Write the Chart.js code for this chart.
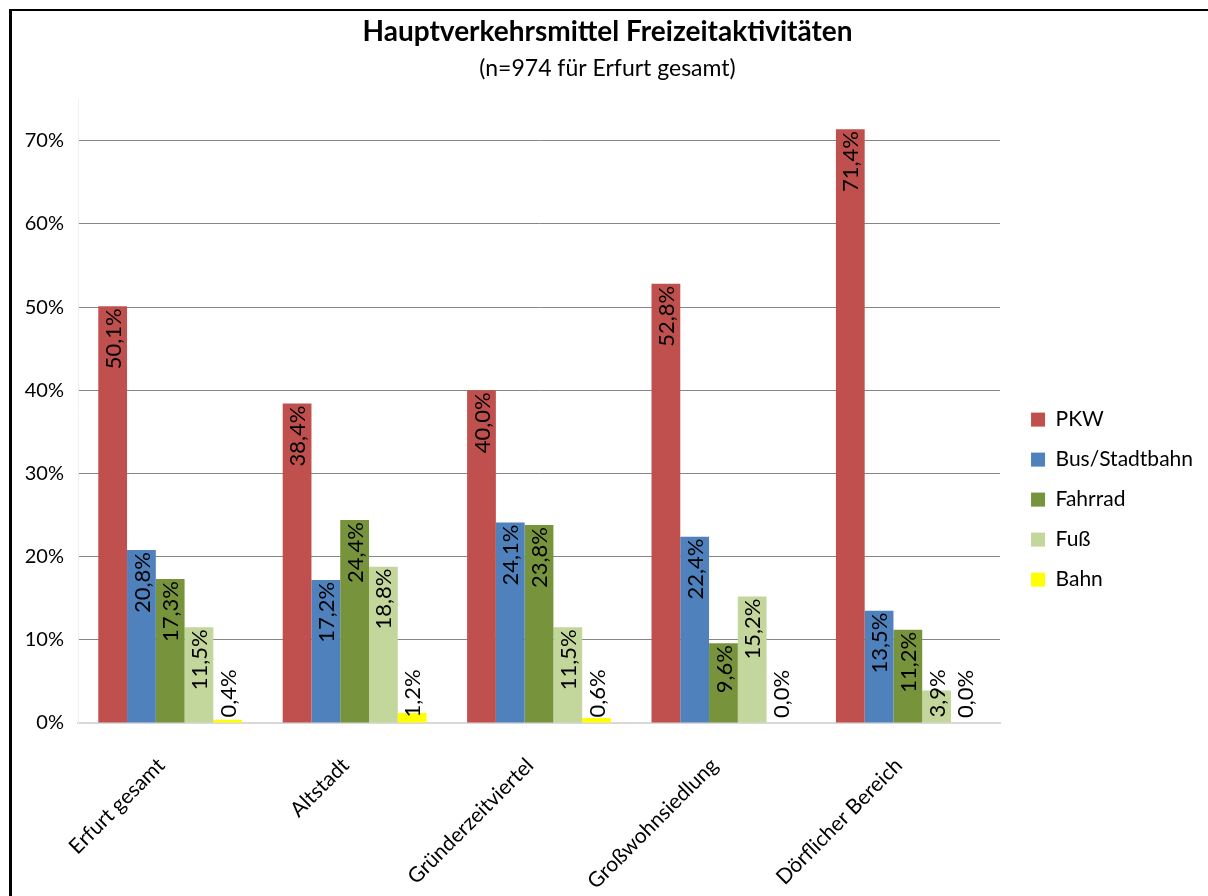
<!DOCTYPE html>
<html>
<head>
<meta charset="utf-8">
<script src="https://cdn.jsdelivr.net/npm/chart.js@4.4.1/dist/chart.umd.min.js"></script>
<style>
  body { margin: 0; background: #fff; overflow: hidden; }
  #rahmen { position: absolute; left: 9px; top: 9px; width: 1210px; height: 890px; border-left: 3px solid #000; border-top: 2px solid #000; }
</style>
</head>
<body>
<div id="rahmen"><canvas id="grafik" width="1196" height="884"></canvas></div>
<script>
const kategorien = ['Erfurt gesamt', 'Altstadt', 'Gründerzeitviertel', 'Großwohnsiedlung', 'Dörflicher Bereich']
const pkw = [50.1, 38.4, 40.0, 52.8, 71.4]
const busStadtbahn = [20.8, 17.2, 24.1, 22.4, 13.5]
const fahrrad = [17.3, 24.4, 23.8, 9.6, 11.2]
const fuss = [11.5, 18.8, 11.5, 15.2, 3.9]
const bahn = [0.4, 1.2, 0.6, 0.0, 0.0]
const yTicks = [0, 10, 20, 30, 40, 50, 60, 70]

const schrift = 'Lato, Calibri, "Liberation Sans", sans-serif'
const formatProzent = v => v.toFixed(1).replace('.', ',') + '%'
const legendenAbstand = 12

// Beschriftungen senkrecht in die Balken schreiben
const balkenBeschriftung = {
  id: 'balkenBeschriftung',
  afterDatasetsDraw(chart) {
    const ctx = chart.ctx
    ctx.save()
    ctx.font = '22px ' + schrift
    ctx.fillStyle = '#000'
    ctx.textBaseline = 'middle'
    chart.data.datasets.forEach((ds, i) => {
      chart.getDatasetMeta(i).data.forEach((bar, j) => {
        const text = formatProzent(ds.data[j])
        const breite = ctx.measureText(text).width
        ctx.save()
        if (bar.base - bar.y >= breite + 6) {
          ctx.translate(bar.x + 1, bar.y + 2)
          ctx.rotate(-Math.PI / 2)
          ctx.textAlign = 'right'
        } else {
          ctx.translate(bar.x + 1, bar.base - 5)
          ctx.rotate(-Math.PI / 2)
          ctx.textAlign = 'left'
        }
        ctx.fillText(text, 0, 0)
        ctx.restore()
      })
    })
    ctx.restore()
  }
}

// etwas mehr Luft zwischen Diagramm und Legende
const legendeLuft = {
  id: 'legendeLuft',
  beforeLayout(chart) {
    const lg = chart.legend
    if (lg && !lg._breiter) {
      const fit = lg.fit.bind(lg)
      lg.fit = function () { fit(); this.width += legendenAbstand }
      lg._breiter = true
    }
  },
  afterLayout(chart) {
    chart.legend.left += legendenAbstand
  }
}

const chart = new Chart(document.getElementById('grafik'), {
  type: 'bar',
  data: {
    labels: kategorien,
    datasets: [
      { label: 'PKW', data: pkw, backgroundColor: '#C0504D' },
      { label: 'Bus/Stadtbahn', data: busStadtbahn, backgroundColor: '#4F81BD' },
      { label: 'Fahrrad', data: fahrrad, backgroundColor: '#77933C' },
      { label: 'Fuß', data: fuss, backgroundColor: '#C3D69B' },
      { label: 'Bahn', data: bahn, backgroundColor: '#FFFF00' }
    ]
  },
  options: {
    responsive: false,
    animation: false,
    layout: { padding: { left: 0, right: 5, top: 0, bottom: 0 } },
    datasets: { bar: { categoryPercentage: 0.78, barPercentage: 1.0 } },
    plugins: {
      tooltip: { enabled: false },
      title: {
        display: true,
        text: 'Hauptverkehrsmittel Freizeitaktivitäten',
        color: '#000',
        font: { family: schrift, size: 28, weight: 'bold' },
        padding: { top: 4, bottom: 2 }
      },
      subtitle: {
        display: true,
        text: '(n=974 für Erfurt gesamt)',
        color: '#000',
        font: { family: schrift, size: 23 },
        padding: { top: 4, bottom: 17 }
      },
      legend: {
        position: 'right',
        title: { display: true, text: ' ', font: { size: 1 }, padding: { top: 92, bottom: 0 } },
        labels: {
          color: '#000',
          font: { family: schrift, size: 21 },
          boxWidth: 14,
          boxHeight: 14,
          padding: 19
        }
      }
    },
    scales: {
      x: {
        grid: { display: false },
        border: { color: '#D9D9D9', width: 2 },
        ticks: {
          color: '#000',
          font: { family: schrift, size: 21 },
          maxRotation: 45,
          minRotation: 45,
          padding: 22,
          labelOffset: -9
        },
        afterFit: s => { s.height = 172 }
      },
      y: {
        min: 0,
        max: 75,
        afterBuildTicks: s => { s.ticks = yTicks.map(v => ({ value: v })) },
        grid: { color: ctx => ctx.tick && ctx.tick.value === 0 ? 'rgba(0,0,0,0)' : '#868686', drawTicks: false },
        border: { color: '#F0F0F0', width: 1 },
        ticks: {
          color: '#000',
          font: { family: schrift, size: 20 },
          padding: 14,
          callback: v => v + '%'
        },
        afterFit: s => { s.width = 66 }
      }
    }
  },
  plugins: [balkenBeschriftung, legendeLuft]
})
</script>
</body>
</html>
